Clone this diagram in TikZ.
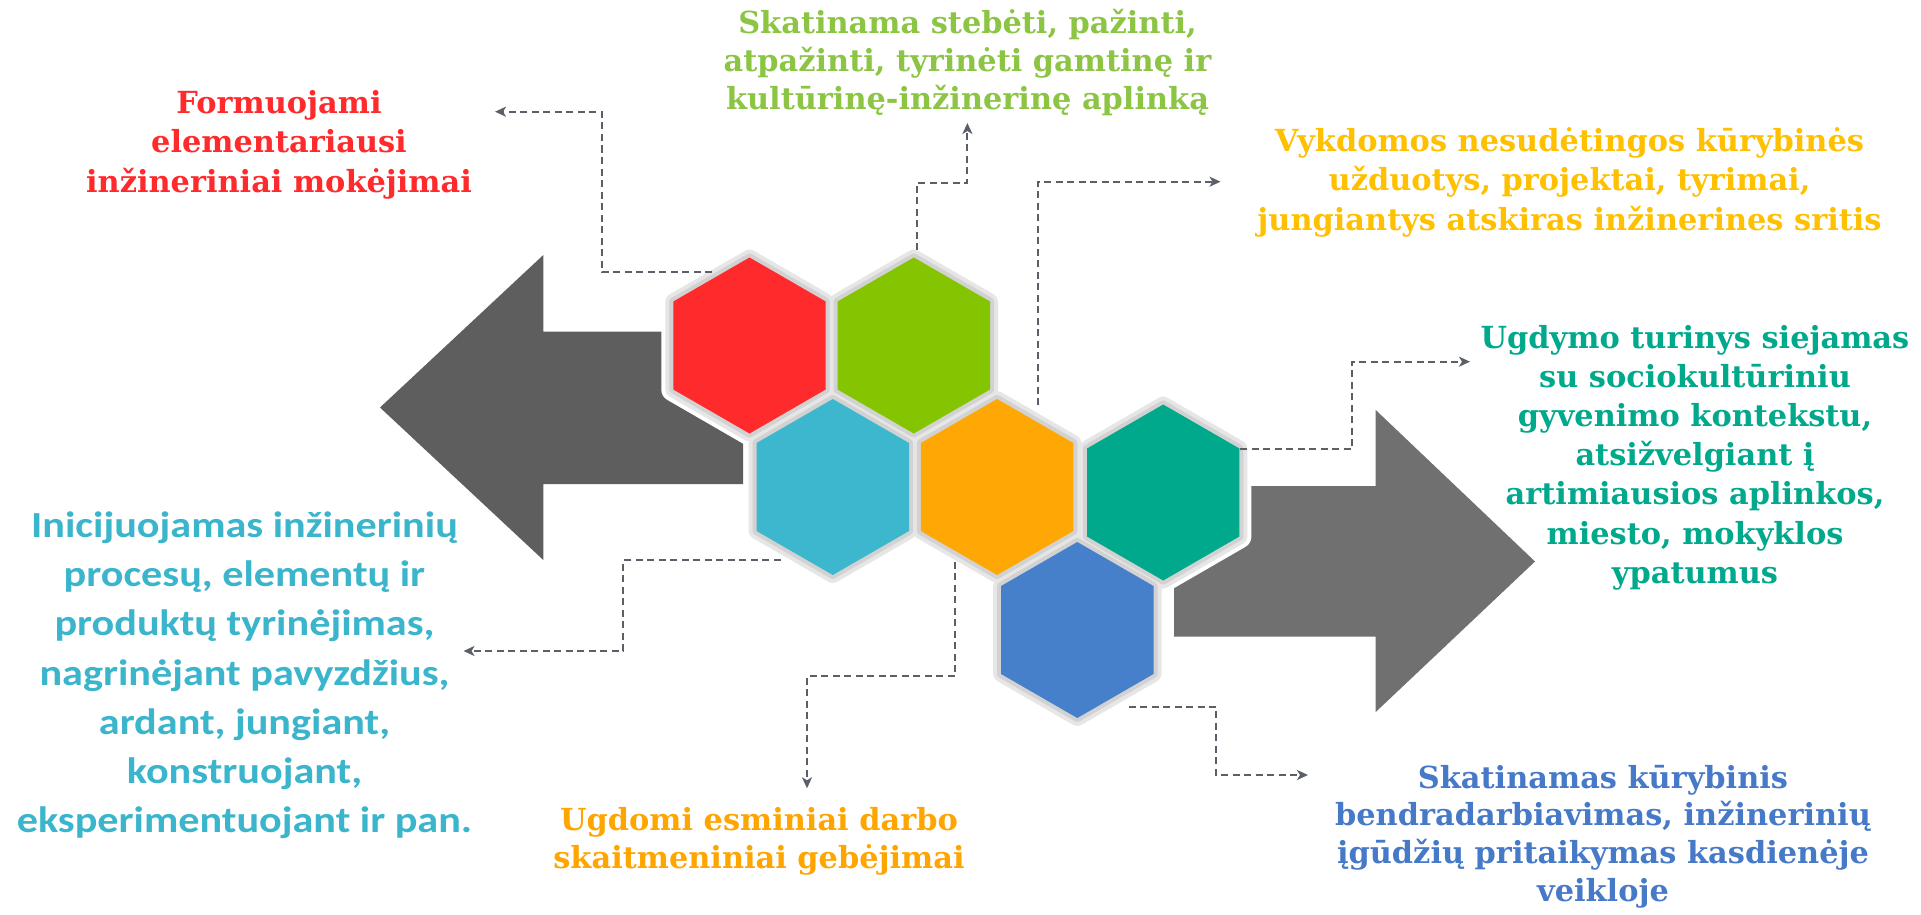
\documentclass[tikz,border=0pt]{standalone}
\usepackage{fontspec}
\setmainfont{DejaVu Serif}
\newfontfamily\hexsans[FakeStretch=1.15]{Carlito}
\usetikzlibrary{arrows.meta}
\definecolor{cRed}{HTML}{FE2A2C}
\definecolor{cGrn}{HTML}{84C400}
\definecolor{cGrnT}{HTML}{8BC543}
\definecolor{cCya}{HTML}{3DB7CE}
\definecolor{cCyaT}{HTML}{3AB5CC}
\definecolor{cOrg}{HTML}{FFA705}
\definecolor{cOrgT}{HTML}{FFC000}
\definecolor{cOrgB}{HTML}{FFA500}
\definecolor{cTea}{HTML}{00A98B}
\definecolor{cBlu}{HTML}{4680CA}
\definecolor{cBluT}{HTML}{4679C7}
\definecolor{cArrL}{HTML}{5E5E5E}
\definecolor{cArrR}{HTML}{707070}
\definecolor{cDash}{HTML}{5B6068}
\definecolor{cRing}{HTML}{D2D2D2}
\definecolor{cShadow}{HTML}{E6E6E6}
\begin{document}
\begin{tikzpicture}[x=1pt,y=-1pt,
  conn/.style={draw=cDash, line width=2pt, dash pattern=on 7pt off 4.5pt,
    -{Stealth[length=11pt,width=10pt,inset=3pt]}},
  halo/.style={draw=white, line width=24pt, line join=round},
  shadowring/.style={draw=cShadow, line width=16pt, line join=round},
  innerring/.style={draw=cRing, line width=8pt, line join=round},
  serifbox/.style={font=\fontsize{30.4}{#1}\selectfont\bfseries, align=center, anchor=base, inner sep=0pt},
  serifbox/.default=39,
  sansbox/.style={font=\hexsans\bfseries\fontsize{36.7}{49.2}\selectfont, align=center, anchor=base, inner sep=0pt}
]
\useasboundingbox (0,0) rectangle (1921,915);
\fill[white] (0,0) rectangle (1921,915);

% hexagon centres
\coordinate (redC) at (749.5,345.5);
\coordinate (grnC) at (913.8,345.5);
\coordinate (cyaC) at (832.8,487);
\coordinate (orgC) at (997.1,487);
\coordinate (teaC) at (1163.2,492.5);
\coordinate (bluC) at (1077.3,630);

% big arrows
\fill[cArrL] (380,407.5) -- (543.3,255) -- (543.3,331.7) -- (743,331.7) -- (743,484)
  -- (543.3,484) -- (543.3,560) -- cycle;
\fill[cArrR] (1174,486) -- (1375.7,486) -- (1375.7,410) -- (1535,561.5) -- (1375.7,712)
  -- (1375.7,636.7) -- (1174,636.7) -- cycle;

% hexagon halos and rings
\foreach \c in {redC,grnC,cyaC,orgC,teaC,bluC}
  \draw[halo,shift={(\c)}] (0,-88) -- (76.2,-44) -- (76.2,44) -- (0,88) -- (-76.2,44) -- (-76.2,-44) -- cycle;
\foreach \c in {redC,grnC,cyaC,orgC,teaC,bluC}
  \draw[shadowring,shift={(\c)}] (0,-88) -- (76.2,-44) -- (76.2,44) -- (0,88) -- (-76.2,44) -- (-76.2,-44) -- cycle;
\foreach \c in {redC,grnC,cyaC,orgC,teaC,bluC}
  \draw[innerring,shift={(\c)}] (0,-88) -- (76.2,-44) -- (76.2,44) -- (0,88) -- (-76.2,44) -- (-76.2,-44) -- cycle;
% hexagon fills
\foreach \c/\col in {redC/cRed,grnC/cGrn,cyaC/cCya,orgC/cOrg,teaC/cTea,bluC/cBlu}
  \fill[\col,shift={(\c)}] (0,-88) -- (76.2,-44) -- (76.2,44) -- (0,88) -- (-76.2,44) -- (-76.2,-44) -- cycle;

% texts (anchor = baseline of the last line)
\node[serifbox=39.2, text=cRed] (redTxt) at (279,192)
  {Formuojami\\elementariausi\\inžineriniai mokėjimai};
\node[serifbox=38.3, text=cGrnT] (grnTxt) at (967.5,110)
  {Skatinama stebėti, pažinti,\\atpažinti, tyrinėti gamtinę ir\\kultūrinę-inžinerinę aplinką};
\node[serifbox=39.2, text=cOrgT] (orgTxt) at (1569.5,230)
  {Vykdomos nesudėtingos kūrybinės\\užduotys, projektai, tyrimai,\\jungiantys atskiras inžinerines sritis};
\node[serifbox=39.2, text=cTea] (teaTxt) at (1695,583.3)
  {Ugdymo turinys siejamas\\su sociokultūriniu\\gyvenimo kontekstu,\\atsižvelgiant į\\artimiausios aplinkos,\\miesto, mokyklos\\ypatumus};
\node[serifbox=37.9, text=cBluT] (bluTxt) at (1603,901.7)
  {Skatinamas kūrybinis\\bendradarbiavimas, inžinerinių\\įgūdžių pritaikymas kasdienėje\\veikloje};
\node[serifbox=38.3, text=cOrgB] (ogbTxt) at (759,868.3)
  {Ugdomi esminiai darbo\\skaitmeniniai gebėjimai};
\node[sansbox, text=cCyaT] (cyaTxt) at (244.5,832.7)
  {Inicijuojamas inžinerinių\\procesų, elementų ir\\produktų tyrinėjimas,\\nagrinėjant pavyzdžius,\\ardant, jungiant,\\konstruojant,\\eksperimentuojant ir pan.};

% connectors
\coordinate (redS) at (712,272);
\coordinate (redK) at (601.5,272);
\coordinate (redT) at (495,111.7);
\draw[conn] (redS) -- (redK) |- (redT);

\coordinate (grnS) at (916.7,250);
\coordinate (grnK) at (916.7,182.7);
\coordinate (grnT) at (967.4,123);
\draw[conn] (grnS) -- (grnK) -| (grnT);

\coordinate (orgS) at (1037.5,405);
\coordinate (orgT) at (1220.5,181.7);
\draw[conn] (orgS) |- (orgT);

\coordinate (teaS) at (1240,449.3);
\coordinate (teaK) at (1351.7,449.3);
\coordinate (teaT) at (1470,361.7);
\draw[conn] (teaS) -- (teaK) |- (teaT);

\coordinate (bluS) at (1128.5,706.7);
\coordinate (bluK) at (1216.2,706.7);
\coordinate (bluT) at (1308,775);
\draw[conn] (bluS) -- (bluK) |- (bluT);

\coordinate (ogbS) at (955.3,561.7);
\coordinate (ogbK) at (955.3,676);
\coordinate (ogbT) at (807,788.3);
\draw[conn] (ogbS) -- (ogbK) -| (ogbT);

\coordinate (cyaS) at (780.8,560);
\coordinate (cyaK) at (623.4,560);
\coordinate (cyaT) at (463.5,651);
\draw[conn] (cyaS) -- (cyaK) |- (cyaT);
\end{tikzpicture}
\end{document}
